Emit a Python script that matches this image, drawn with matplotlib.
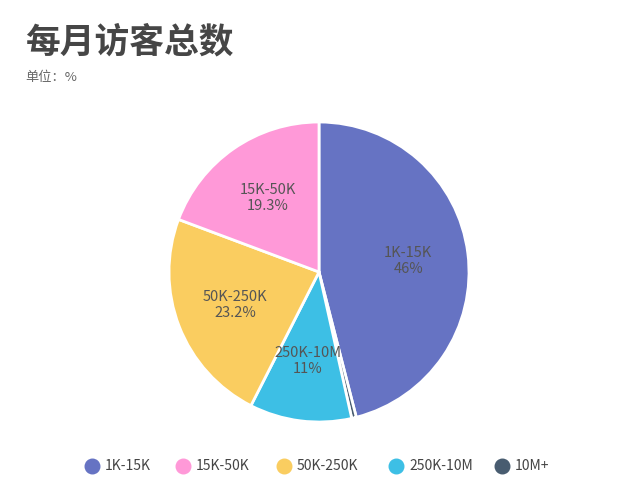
import matplotlib
matplotlib.use("Agg")
import matplotlib.pyplot as plt
import numpy as np

plt.rcParams['font.family'] = ['Noto Sans CJK SC', 'DejaVu Sans']

legend_order = ["1K-15K", "15K-50K", "50K-250K", "250K-10M", "10M+"]
pie_labels = ["1K-15K", "10M+", "250K-10M", "50K-250K", "15K-50K"]
pie_values = [46, 0.5, 11, 23.2, 19.3]
value_text = ["46%", "", "11%", "23.2%", "19.3%"]
colors_map = {"1K-15K": "#6673C3", "15K-50K": "#FF99D8", "50K-250K": "#FACD60",
              "250K-10M": "#3DBFE5", "10M+": "#485C70"}

fig = plt.figure(figsize=(6.38, 5.0), dpi=100)
ax = fig.add_axes([0.0, 0.0, 1.0, 1.0])
ax.set_xlim(0, 638); ax.set_ylim(500, 0); ax.axis('off')

R = 150
pax = fig.add_axes([(319-R)/638, 1-(272+R)/500, 2*R/638, 2*R/500])
wedges, _ = pax.pie(pie_values, colors=[colors_map[l] for l in pie_labels],
                    startangle=90, counterclock=False,
                    wedgeprops=dict(edgecolor='white', linewidth=2))
pax.set_xlim(-1, 1); pax.set_ylim(-1, 1)
pax.set_aspect('auto')
ang = 90
for w, lab, v, t in zip(wedges, pie_labels, pie_values, value_text):
    mid = ang - v / 100 * 360 / 2
    ang -= v / 100 * 360
    if not t:
        continue
    r = 0.6
    pax.text(r*np.cos(np.radians(mid)), r*np.sin(np.radians(mid)), f"{lab}\n{t}",
             ha='center', va='center', fontsize=10.5, color='#555555', linespacing=1.2)

ax.text(25, 42, "每月访客总数", fontsize=25, fontweight='bold', color='#464646', va='center')
ax.text(25, 78, "单位：%", fontsize=9.5, color='#666666', va='center')

xs = [92, 183, 284, 396, 502]
for x, l in zip(xs, legend_order):
    ax.scatter([x], [466], s=110, color=colors_map[l])
    ax.text(x + 13, 466, l, fontsize=10, color='#444444', va='center')

fig.savefig("out.png", dpi=100)
